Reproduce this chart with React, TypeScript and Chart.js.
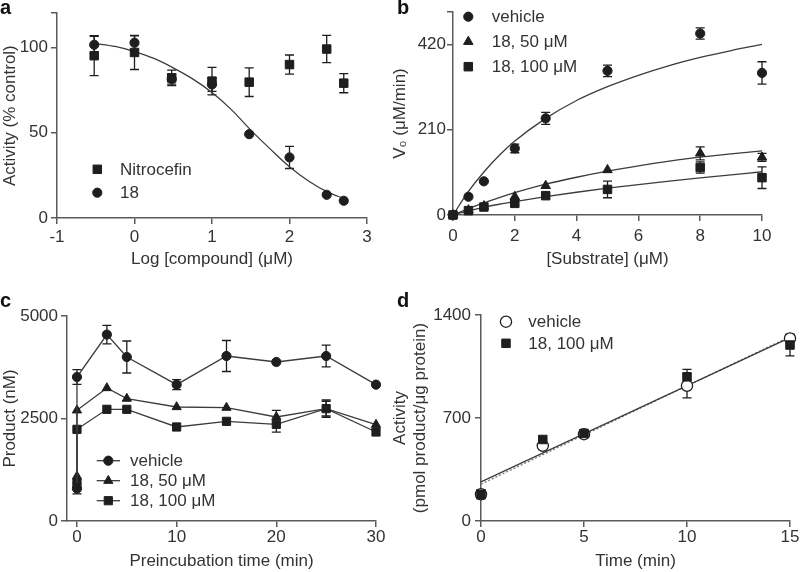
import React, { useEffect, useRef } from 'react';
import { Chart, registerables } from 'chart.js';

Chart.register(...registerables);

const FONT = "'Liberation Sans', Arial, Helvetica, sans-serif";
const INK = '#1e1e1e';
const LINE = '#3c3c3c';
const AXIS = '#5a5a5a';
const TEXT = '#333333';
const CAP = 4.5;

// ---------- Panel a ----------
const aLogConc = [-0.52, 0, 0.48, 1, 1.48, 2, 2.48, 2.7];
const aNitrocefin = [95.1, 97.0, 82.1, 80.2, 79.6, 89.9, 99.0, 79.0];
const aNitrocefinErr = [11.7, 10.0, 4.5, 8.0, 8.4, 5.6, 8.0, 5.6];
const aCmpd18 = [101.5, 102.7, 81.5, 78.2, 49.1, 35.5, 13.6, 10.1];
const aCmpd18Err = [5.0, 4.0, 3.0, 4.0, 0, 6.5, 0, 0];
const aFitX = [-0.52, -0.25, 0, 0.25, 0.5, 0.75, 1, 1.25, 1.5, 1.75, 2, 2.25, 2.5, 2.7];
const aFitY = [102.3, 100.5, 97.5, 93.5, 88, 81.5, 73.5, 63.5, 51.5, 40.5, 30, 21.5, 15, 11.5];
const aXTicks = [-1, 0, 1, 2, 3];
const aYTicks = [0, 50, 100, 120];
const aYLabels = ['0', '50', '100', ''];

// ---------- Panel b ----------
const bSubstrate = [0, 0.5, 1, 2, 3, 5, 8, 10];
const bVehicle = [0, 45, 83, 164, 238, 355, 447, 350];
const bVehicleErr = [0, 0, 0, 10.7, 15, 14, 14, 27.5];
const b50 = [0, 12, 22, 45, 72, 111, 152, 142];
const b50Err = [0, 0, 0, 0, 0, 0, 16, 10];
const b100 = [0, 10.7, 19.7, 28.7, 47.6, 63, 117, 92];
const b100Err = [0, 0, 0, 0, 0, 20.5, 14, 26.7];
const bFitX = [0, 0.5, 1, 1.5, 2, 3, 4, 5, 6, 7, 8, 9, 10];
const bVehicleFit = [0, 58, 106, 147, 182, 238, 282, 316, 344, 368, 388, 405, 420];
const b50Fit = [0, 16, 30, 43, 55, 76, 93, 108, 121, 132.5, 142.5, 150.5, 158];
const b100Fit = [0, 10, 19, 26.5, 33, 45, 56, 66, 75, 83.5, 91.5, 99, 106.5];
const bXTicks = [0, 2, 4, 6, 8, 10];
const bYTicks = [0, 210, 420, 500];
const bYLabels = ['0', '210', '420', ''];

// ---------- Panel c ----------
const cTime = [0, 0, 3, 5, 10, 15, 20, 25, 30];
const cVehicle = [790, 3512, 4546, 4000, 3326, 4024, 3878, 4024, 3326];
const cVehicleErr = [130, 180, 224, 390, 122, 378, 0, 264, 0];
const c50 = [1090, 2700, 3244, 2985, 2781, 2765, 2537, 2741, 2350];
const c50Err = [0, 0, 0, 0, 0, 0, 163, 210, 0];
const c100 = [912, 2236, 2724, 2724, 2293, 2431, 2358, 2741, 2171];
const c100Err = [110, 0, 0, 0, 0, 0, 190, 180, 0];
const cXTicks = [0, 10, 20, 30];
const cYTicks = [0, 2500, 5000];

// ---------- Panel d ----------
const dTime = [0, 3, 5, 10, 15];
const dVehicle = [182, 511, 590, 919, 1241];
const dVehicleErr = [30, 0, 0, 82, 25];
const d100 = [182, 554, 595, 980, 1196];
const d100Err = [30, 0, 0, 50, 74];
const dFitX = [0, 15];
const dVehicleFit = [266, 1246];
const d100Fit = [250, 1253];
const dXTicks = [0, 5, 10, 15];
const dYTicks = [0, 700, 1400];

const pts = (xs: number[], ys: number[]) => xs.map((x, i) => ({ x, y: ys[i] }));

const errorBarPlugin = {
  id: 'errorBars',
  beforeDatasetsDraw(chart: any) {
    const ctx = chart.ctx;
    const xs = chart.scales.x;
    const ys = chart.scales.y;
    chart.data.datasets.forEach((ds: any) => {
      if (!ds.errorBars) return;
      ctx.save();
      ctx.strokeStyle = INK;
      ctx.lineWidth = 1.3;
      ds.data.forEach((p: any, i: number) => {
        const e = ds.errorBars[i];
        if (!e) return;
        const px = xs.getPixelForValue(p.x);
        const t = ys.getPixelForValue(p.y + e);
        const b = ys.getPixelForValue(p.y - e);
        ctx.beginPath();
        ctx.moveTo(px, t);
        ctx.lineTo(px, b);
        ctx.moveTo(px - CAP, t);
        ctx.lineTo(px + CAP, t);
        ctx.moveTo(px - CAP, b);
        ctx.lineTo(px + CAP, b);
        ctx.stroke();
      });
      ctx.restore();
    });
  },
};

function drawMarker(ctx: CanvasRenderingContext2D, style: string, x: number, y: number, r: number, fill: string, stroke: string, bw: number) {
  ctx.beginPath();
  if (style === 'rect') {
    const s = r * Math.SQRT1_2;
    ctx.rect(x - s, y - s, 2 * s, 2 * s);
  } else if (style === 'triangle') {
    ctx.moveTo(x, y - r);
    ctx.lineTo(x + r * Math.sin((2 * Math.PI) / 3), y + r * 0.5);
    ctx.lineTo(x - r * Math.sin((2 * Math.PI) / 3), y + r * 0.5);
    ctx.closePath();
  } else {
    ctx.arc(x, y, r, 0, Math.PI * 2);
  }
  ctx.fillStyle = fill;
  ctx.fill();
  if (bw > 0) {
    ctx.lineWidth = bw;
    ctx.strokeStyle = stroke;
    ctx.stroke();
  }
}

type LegendItem = { ds: number; x: number; y: number; textX: number; line?: [number, number] };

function makeLegendPlugin(items: LegendItem[]) {
  return {
    id: 'panelLegend',
    afterDraw(chart: any) {
      const ctx = chart.ctx as CanvasRenderingContext2D;
      ctx.save();
      items.forEach((it) => {
        const ds = chart.data.datasets[it.ds];
        if (it.line) {
          ctx.beginPath();
          ctx.strokeStyle = LINE;
          ctx.lineWidth = 1.3;
          ctx.moveTo(it.line[0], it.y);
          ctx.lineTo(it.line[1], it.y);
          ctx.stroke();
        }
        drawMarker(ctx, ds.pointStyle, it.x, it.y, ds.pointRadius, ds.pointBackgroundColor, ds.pointBorderColor, ds.pointBorderWidth);
        ctx.fillStyle = TEXT;
        ctx.font = `17px ${FONT}`;
        ctx.textAlign = 'left';
        ctx.textBaseline = 'middle';
        ctx.fillText(ds.label, it.textX, it.y + 1);
      });
      ctx.restore();
    },
  };
}

type AxisSpec = {
  min: number;
  max: number;
  ticks: number[];
  labels?: string[];
  title: string | string[];
  size: number;
  horizontal: boolean;
  tickPad: number;
};

function linearAxis(p: AxisSpec) {
  return {
    type: 'linear',
    min: p.min,
    max: p.max,
    afterBuildTicks: (s: any) => {
      s.ticks = p.ticks.map((v) => ({ value: v }));
    },
    afterFit: (s: any) => {
      if (p.horizontal) s.height = p.size;
      else s.width = p.size;
    },
    grid: {
      display: true,
      drawOnChartArea: false,
      drawTicks: true,
      tickLength: 6,
      tickWidth: 1.5,
      tickColor: AXIS,
      color: AXIS,
      lineWidth: 1.5,
    },
    border: { display: true, color: AXIS, width: 1.5 },
    ticks: {
      color: TEXT,
      padding: p.tickPad,
      autoSkip: false,
      maxRotation: 0,
      font: { family: FONT, size: 17 },
      callback: (v: number) => {
        const idx = p.ticks.indexOf(v);
        if (p.labels) return idx >= 0 ? p.labels[idx] : '';
        return String(v);
      },
    },
    title: {
      display: true,
      text: p.title,
      color: TEXT,
      font: { family: FONT, size: 17 },
      padding: 0,
    },
  };
}

function markerSet(label: string, xs: number[], ys: number[], style: string, r: number, err?: number[], opts: any = {}) {
  return {
    label,
    data: pts(xs, ys),
    errorBars: err,
    showLine: false,
    pointStyle: style,
    pointRadius: r,
    pointBackgroundColor: INK,
    pointBorderColor: INK,
    pointBorderWidth: 1,
    backgroundColor: INK,
    borderColor: LINE,
    borderWidth: 1.3,
    clip: false,
    ...opts,
  };
}

function fitLine(xs: number[], ys: number[], opts: any = {}) {
  return {
    label: 'fit',
    data: pts(xs, ys),
    showLine: true,
    pointRadius: 0,
    borderColor: LINE,
    borderWidth: 1.3,
    cubicInterpolationMode: 'monotone',
    fill: false,
    clip: false,
    ...opts,
  };
}

// Chart.js draws dataset index 0 on top, so markers come first, fitted lines last.
function baseConfig(datasets: any[], x: any, y: any, padding: any, legend: LegendItem[]) {
  return {
    type: 'scatter',
    data: { datasets },
    options: {
      responsive: false,
      maintainAspectRatio: false,
      animation: false,
      events: [],
      layout: { padding },
      plugins: { legend: { display: false }, tooltip: { enabled: false } },
      scales: { x, y },
    },
    plugins: [errorBarPlugin, makeLegendPlugin(legend)],
  } as any;
}

const configA = () =>
  baseConfig(
    [
      markerSet('Nitrocefin', aLogConc, aNitrocefin, 'rect', 6, aNitrocefinErr),
      markerSet('18', aLogConc, aCmpd18, 'circle', 4.6, aCmpd18Err),
      fitLine(aFitX, aFitY),
    ],
    linearAxis({ min: -1, max: 3, ticks: aXTicks, title: 'Log [compound] (\u03BCM)', size: 52, horizontal: true, tickPad: 3 }),
    linearAxis({ min: 0, max: 120, ticks: aYTicks, labels: aYLabels, title: 'Activity (% control)', size: 57, horizontal: false, tickPad: 3 }),
    { left: 0, top: 12, right: 33, bottom: 0 },
    [
      { ds: 0, x: 97.3, y: 169.3, textX: 120 },
      { ds: 1, x: 97.3, y: 192.7, textX: 120 },
    ]
  );

const configB = () =>
  baseConfig(
    [
      markerSet('vehicle', bSubstrate, bVehicle, 'circle', 4.6, bVehicleErr),
      markerSet('18, 50 \u03BCM', bSubstrate, b50, 'triangle', 5.5, b50Err),
      markerSet('18, 100 \u03BCM', bSubstrate, b100, 'rect', 6, b100Err),
      fitLine(bFitX, bVehicleFit),
      fitLine(bFitX, b50Fit),
      fitLine(bFitX, b100Fit),
    ],
    linearAxis({ min: 0, max: 10, ticks: bXTicks, title: '[Substrate] (\u03BCM)', size: 55, horizontal: true, tickPad: 5.5 }),
    linearAxis({ min: 0, max: 500, ticks: bYTicks, labels: bYLabels, title: 'V\u2080 (\u03BCM/min)', size: 63, horizontal: false, tickPad: 1 }),
    { left: 0, top: 12, right: 38, bottom: 0 },
    [
      { ds: 0, x: 78.3, y: 16.7, textX: 101.7 },
      { ds: 1, x: 78.3, y: 41.7, textX: 101.7 },
      { ds: 2, x: 78.3, y: 66.7, textX: 101.7 },
    ]
  );

const configC = () =>
  baseConfig(
    [
      markerSet('vehicle', cTime, cVehicle, 'circle', 4.6, cVehicleErr, { showLine: true, tension: 0 }),
      markerSet('18, 50 \u03BCM', cTime, c50, 'triangle', 5.3, c50Err, { showLine: true, tension: 0 }),
      markerSet('18, 100 \u03BCM', cTime, c100, 'rect', 5.8, c100Err, { showLine: true, tension: 0 }),
    ],
    linearAxis({ min: -1, max: 30, ticks: cXTicks, title: 'Preincubation time (min)', size: 51, horizontal: true, tickPad: 0.5 }),
    linearAxis({ min: 0, max: 5000, ticks: cYTicks, title: 'Product (nM)', size: 67, horizontal: false, tickPad: 3 }),
    { left: 0, top: 26, right: 24, bottom: 0 },
    [
      { ds: 0, x: 108.3, y: 170.7, textX: 130, line: [96.7, 120] },
      { ds: 1, x: 108.3, y: 190.7, textX: 130, line: [96.7, 120] },
      { ds: 2, x: 108.3, y: 210.7, textX: 130, line: [96.7, 120] },
    ]
  );

const configD = () =>
  baseConfig(
    [
      markerSet('18, 100 \u03BCM', dTime, d100, 'rect', 6, d100Err),
      markerSet('vehicle', dTime, dVehicle, 'circle', 5.6, dVehicleErr, {
        pointBackgroundColor: '#ffffff',
        pointBorderColor: INK,
        pointBorderWidth: 1.3,
      }),
      fitLine(dFitX, dVehicleFit),
      fitLine(dFitX, d100Fit, { borderDash: [2, 2], borderColor: '#777777', borderWidth: 1.3 }),
    ],
    linearAxis({ min: 0, max: 15, ticks: dXTicks, title: 'Time (min)', size: 51, horizontal: true, tickPad: 0.5 }),
    linearAxis({
      min: 0,
      max: 1400,
      ticks: dYTicks,
      title: ['Activity', '(pmol product/\u03BCg protein)'],
      size: 91,
      horizontal: false,
      tickPad: 4,
    }),
    { left: 0, top: 25, right: 10, bottom: 0 },
    [
      { ds: 1, x: 116, y: 31.7, textX: 138.3 },
      { ds: 0, x: 116, y: 53.3, textX: 138.3 },
    ]
  );

function Panel(props: { left: number; top: number; width: number; height: number; build: () => any }) {
  const ref = useRef<HTMLCanvasElement>(null);
  useEffect(() => {
    const chart = new Chart(ref.current as HTMLCanvasElement, props.build());
    return () => chart.destroy();
  }, []);
  return (
    <canvas
      ref={ref}
      width={props.width}
      height={props.height}
      style={{ position: 'absolute', left: props.left, top: props.top, width: props.width, height: props.height }}
    />
  );
}

const letterStyle = (left: number, top: number): React.CSSProperties => ({
  position: 'absolute',
  left,
  top,
  fontFamily: FONT,
  fontWeight: 'bold',
  fontSize: 20,
  lineHeight: '20px',
  color: '#111',
});

export default function App() {
  return (
    <div style={{ position: 'fixed', left: 0, top: 0, width: 800, height: 572, background: '#ffffff', overflow: 'hidden' }}>
      <Panel left={0} top={0} width={400} height={270} build={configA} />
      <Panel left={390} top={0} width={410} height={270} build={configB} />
      <Panel left={0} top={290} width={400} height={282} build={configC} />
      <Panel left={390} top={290} width={410} height={282} build={configD} />
      <div style={letterStyle(0, -3)}>a</div>
      <div style={letterStyle(397, -3)}>b</div>
      <div style={letterStyle(0, 290)}>c</div>
      <div style={letterStyle(397, 290)}>d</div>
    </div>
  );
}
